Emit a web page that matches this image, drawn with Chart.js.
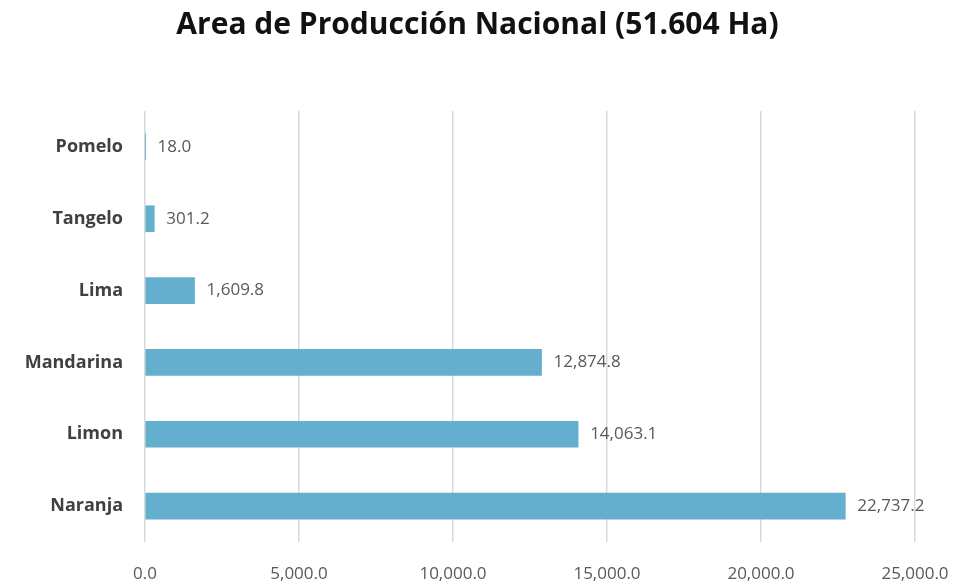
<!DOCTYPE html>
<html>
<head>
<meta charset="utf-8">
<script src="https://cdn.jsdelivr.net/npm/chart.js@4/dist/chart.umd.min.js"></script>
<style>
  html, body { margin: 0; padding: 0; background: #fff; }
  #wrap { width: 955px; height: 586px; position: relative; }
</style>
</head>
<body>
<div id="wrap"><canvas id="areaChart"></canvas></div>
<script>
// Area por cultivo (Ha)
const cultivos = ['Pomelo', 'Tangelo', 'Lima', 'Mandarina', 'Limon', 'Naranja'];
const hectareas = [18.0, 301.2, 1609.8, 12874.8, 14063.1, 22737.2];
const ejeMin = 0;
const ejeMax = 25000;
const ejePaso = 5000;

const fmt = v => Number(v).toLocaleString('en-US', { minimumFractionDigits: 1, maximumFractionDigits: 1 });

// etiquetas de valor al final de cada barra
const valorLabels = {
  id: 'valorLabels',
  afterDatasetsDraw(chart) {
    const ctx = chart.ctx;
    const meta = chart.getDatasetMeta(0);
    ctx.save();
    ctx.font = '17px "Open Sans", sans-serif';
    ctx.fillStyle = '#595959';
    ctx.textAlign = 'left';
    ctx.textBaseline = 'middle';
    meta.data.forEach((bar, i) => {
      ctx.fillText(fmt(hectareas[i]), bar.x + 12, bar.y);
    });
    ctx.restore();
  }
};

new Chart(document.getElementById('areaChart').getContext('2d'), {
  type: 'bar',
  data: {
    labels: cultivos,
    datasets: [{
      data: hectareas,
      backgroundColor: '#64afcd',
      borderWidth: 0,
      barThickness: 26
    }]
  },
  options: {
    indexAxis: 'y',
    responsive: true,
    maintainAspectRatio: false,
    animation: false,
    layout: { padding: 0 },
    plugins: {
      legend: { display: false },
      tooltip: { enabled: false },
      title: {
        display: true,
        text: 'Area de Producción Nacional (51.604 Ha)',
        color: '#111',
        font: { family: '"Open Sans", sans-serif', size: 30, weight: 'bold', lineHeight: 1.2 },
        padding: { top: 7, bottom: 68 }
      }
    },
    scales: {
      x: {
        min: ejeMin,
        max: ejeMax,
        ticks: {
          stepSize: ejePaso,
          color: '#595959',
          font: { family: '"Open Sans", sans-serif', size: 17 },
          padding: 22,
          callback: v => fmt(v)
        },
        grid: { color: '#d9d9d9', lineWidth: 1.5, drawTicks: false },
        border: { display: false },
        afterFit(scale) { scale.height = 44; scale.paddingRight = 40; scale.paddingLeft = 0; }
      },
      y: {
        ticks: {
          color: '#404040',
          font: { family: '"Open Sans", sans-serif', size: 18, weight: 'bold' },
          padding: 14
        },
        grid: { display: false },
        border: { display: false },
        afterFit(scale) { scale.width = 145; }
      }
    }
  },
  plugins: [valorLabels]
});
</script>
</body>
</html>
